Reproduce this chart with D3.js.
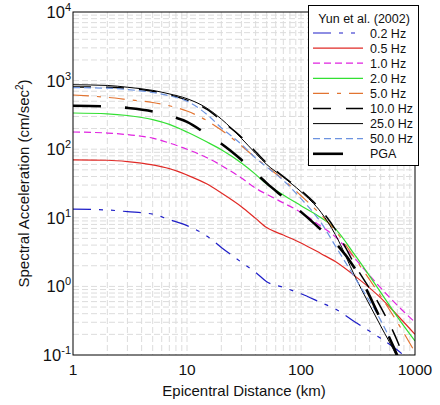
<!DOCTYPE html>
<html>
<head>
<meta charset="utf-8">
<script src="https://cdn.jsdelivr.net/npm/d3@7"></script>
<style>
  html, body { margin: 0; padding: 0; background: #fff; }
  svg { display: block; font-family: Arial, "Liberation Sans", sans-serif; }
</style>
</head>
<body>
<svg id="chart" width="440" height="405"></svg>
<script>
// ---------- data ----------
const distances = [1, 2, 3, 5, 7, 10, 15, 20, 30, 40, 50, 70, 100, 150, 200, 300, 500, 700, 1000];

const sa02  = [13.4, 13, 12.3, 11.3, 9.4, 7.7, 5.4, 3.7, 2.25, 1.6, 1.17, 0.97, 0.78, 0.58, 0.47, 0.3, 0.175, 0.118, 0.07];
const sa05  = [70, 69, 66, 59, 52, 42, 31, 23, 14.5, 9.8, 7.2, 5.6, 4.3, 3.0, 2.3, 1.4, 0.68, 0.38, 0.2];
const sa10  = [178, 172, 163, 145, 123, 100, 75, 58, 38, 27, 22, 16.5, 12, 7.5, 5.3, 2.5, 0.95, 0.53, 0.3];
const sa20  = [337, 328, 310, 270, 230, 178, 127, 98, 63, 43, 31, 21.5, 15, 10, 6.9, 2.8, 0.82, 0.36, 0.16];
const sa50  = [617, 570, 530, 480, 430, 360, 260, 190, 112, 75, 56, 36, 21, 11, 6.5, 2.5, 0.72, 0.3, 0.11];
const sa100 = [810, 800, 770, 700, 620, 520, 380, 262, 150, 92, 63, 40, 25, 13, 6.8, 2.0, 0.5, 0.16, 0.03];
const sa250 = [870, 850, 800, 720, 640, 545, 395, 275, 144, 87, 60, 39, 24, 12, 5.7, 1.36, 0.265, 0.091, 0.02];
const sa500 = [790, 775, 740, 670, 600, 500, 320, 205, 118, 74, 55, 35, 19, 8.5, 3.9, 1.3, 0.32, 0.1, 0.02];
const pga   = [430, 420, 400, 355, 305, 250, 164, 120, 70, 45, 32, 20, 12.2, 6.7, 4.3, 1.78, 0.33, 0.098, 0.02];

const seriesNames = ["0.2 Hz", "0.5 Hz", "1.0 Hz", "2.0 Hz", "5.0 Hz", "10.0 Hz", "25.0 Hz", "50.0 Hz", "PGA"];
const seriesValues = [sa02, sa05, sa10, sa20, sa50, sa100, sa250, sa500, pga];

const xTickValues = [1, 10, 100, 1000];
const yTickExponents = [-1, 0, 1, 2, 3, 4];

const legendTitle = "Yun et al. (2002)";
const xTitle = "Epicentral Distance (km)";
const yTitle = "Spectral Acceleration (cm/sec";

// ---------- styles ----------
const styles = [
  { color: "#1e1ec8", width: 1.2, dash: "18,8,4,8,4,8" },
  { color: "#e02a26", width: 1.2, dash: null },
  { color: "#e023e0", width: 1.2, dash: "7,4" },
  { color: "#33e033", width: 1.2, dash: null },
  { color: "#e27431", width: 1.2, dash: "16,8,4,8" },
  { color: "#000000", width: 1.5, dash: "18,15" },
  { color: "#000000", width: 1.0, dash: null },
  { color: "#6c93e0", width: 1.2, dash: "7,4" },
  { color: "#000000", width: 2.6, dash: "28,24" }
];

// ---------- layout ----------
const svg = d3.select("#chart");
const L = 73, R = 415, T = 12, B = 355;

const x = d3.scaleLog().domain([1, 1000]).range([L, R]);
const y = d3.scaleLog().domain([0.1, 10000]).range([B, T]);

// grid
const grid = svg.append("g");
const xGrid = [];
for (let e = 0; e < 3; e++) for (let m = 1; m <= 9; m++) xGrid.push(m * Math.pow(10, e));
const yGrid = [];
for (let e = -1; e < 4; e++) for (let m = 1; m <= 9; m++) yGrid.push(m * Math.pow(10, e));

grid.selectAll("line.gx").data(xGrid.filter(v => v > 1)).join("line")
  .attr("x1", d => x(d)).attr("x2", d => x(d))
  .attr("y1", T).attr("y2", B)
  .attr("stroke", "#dcdcdc").attr("stroke-width", 1).attr("stroke-dasharray", "6,3");
grid.selectAll("line.gy").data(yGrid.filter(v => v > 0.1)).join("line")
  .attr("x1", L).attr("x2", R)
  .attr("y1", d => y(d)).attr("y2", d => y(d))
  .attr("stroke", "#dcdcdc").attr("stroke-width", 1).attr("stroke-dasharray", "6,3");

// clip
svg.append("clipPath").attr("id", "plotclip")
  .append("rect").attr("x", L).attr("y", T).attr("width", R - L).attr("height", B - T);

const line = d3.line().x(d => x(d[0])).y(d => y(d[1])).curve(d3.curveMonotoneX);

const lines = svg.append("g").attr("clip-path", "url(#plotclip)");
seriesValues.forEach((vals, i) => {
  const pts = distances.map((d, j) => [d, vals[j]]);
  const st = styles[i];
  lines.append("path")
    .attr("d", line(pts))
    .attr("fill", "none")
    .attr("stroke", st.color)
    .attr("stroke-width", st.width)
    .attr("stroke-dasharray", st.dash);
});

// frame
svg.append("rect").attr("x", L).attr("y", T).attr("width", R - L).attr("height", B - T)
  .attr("fill", "none").attr("stroke", "#000").attr("stroke-width", 1);

// x tick labels
svg.selectAll("text.xt").data(xTickValues).join("text")
  .attr("x", d => x(d)).attr("y", 375)
  .attr("text-anchor", "middle").attr("font-size", 15.5).attr("fill", "#111")
  .text(d => d);

// y tick labels
const yt = svg.selectAll("text.yt").data(yTickExponents).join("text")
  .attr("x", 71).attr("y", d => y(Math.pow(10, d)) + 6)
  .attr("text-anchor", "end").attr("font-size", 16.5).attr("fill", "#111");
yt.append("tspan").text("10");
yt.append("tspan").attr("dy", -7).attr("font-size", 11).text(d => d);

// axis titles
svg.append("text").attr("x", (L + R) / 2).attr("y", 396)
  .attr("text-anchor", "middle").attr("font-size", 15).attr("fill", "#111")
  .text(xTitle);

const yT = svg.append("text")
  .attr("transform", `translate(29, ${(T + B) / 2}) rotate(-90)`)
  .attr("text-anchor", "middle").attr("font-size", 15).attr("fill", "#111");
yT.append("tspan").text(yTitle);
yT.append("tspan").attr("dy", -6).attr("font-size", 10).text("2");
yT.append("tspan").attr("dy", 6).text(")");

// legend
const lg = svg.append("g");
lg.append("rect").attr("x", 308.5).attr("y", 5.5).attr("width", 110).attr("height", 160)
  .attr("fill", "#fff").attr("stroke", "#000").attr("stroke-width", 1);
lg.append("text").attr("x", 364).attr("y", 23).attr("text-anchor", "middle")
  .attr("font-size", 12.5).attr("fill", "#111").text(legendTitle);
seriesNames.forEach((name, i) => {
  const ry = 33 + i * 15.1;
  const st = styles[i];
  lg.append("line").attr("x1", 313).attr("x2", i === 8 ? 343 : 363)
    .attr("y1", ry).attr("y2", ry)
    .attr("stroke", st.color).attr("stroke-width", st.width)
    .attr("stroke-dasharray", i === 8 ? null : st.dash);
  lg.append("text").attr("x", 370).attr("y", ry + 4.5)
    .attr("font-size", 12.5).attr("fill", "#111").text(name);
});
</script>
</body>
</html>
